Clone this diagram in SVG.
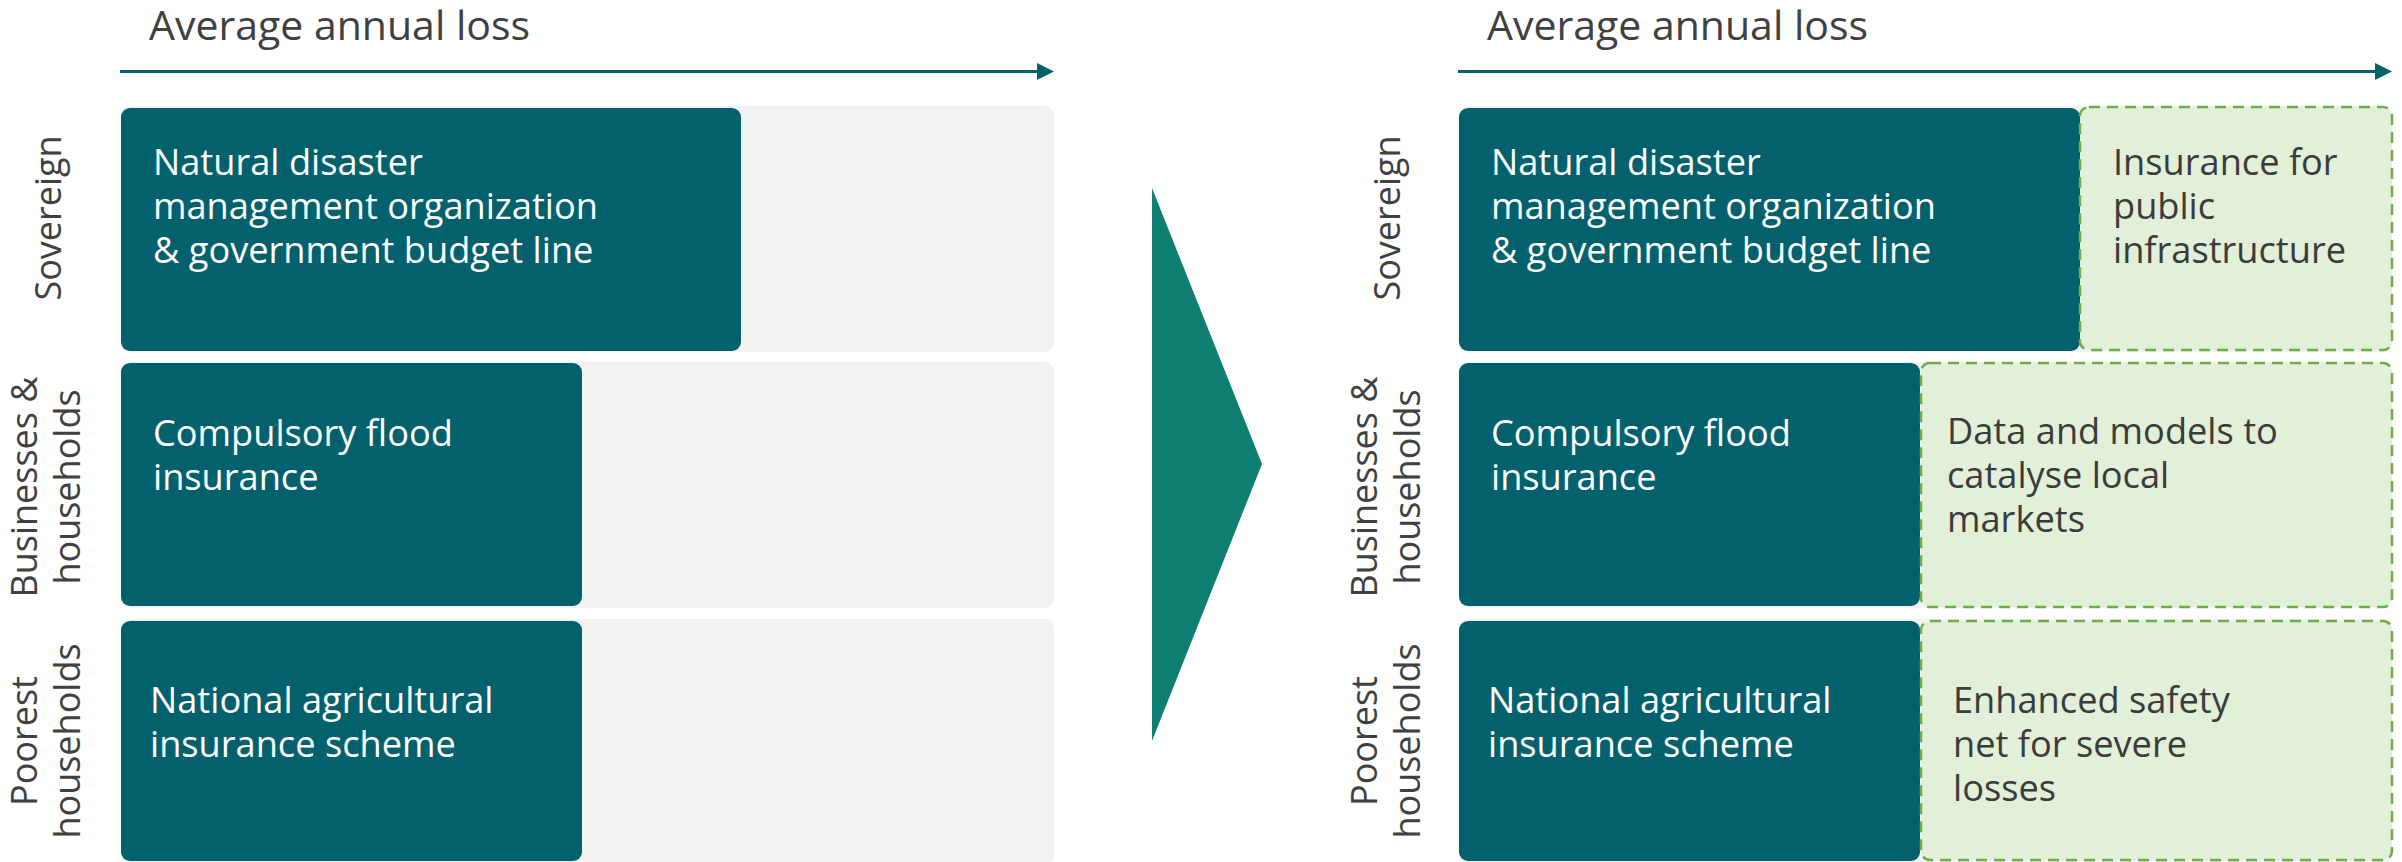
<svg xmlns="http://www.w3.org/2000/svg" width="2402" height="862" viewBox="0 0 2402 862">
<defs>
<style>
.bg{fill:#FFFFFF}
.row{fill:#F2F2F2}
.dark{fill:#02616C}
.new{fill:#E2EFD9;stroke:#70AD47;stroke-width:2.5;stroke-dasharray:11 7}
.title{font-family:"Open Sans","Noto Sans",sans-serif;font-size:41px;fill:#404040}
.lbl{font-family:"Open Sans","Noto Sans",sans-serif;font-size:36px;fill:#404040;text-anchor:middle}
.wt{font-family:"Open Sans","Noto Sans",sans-serif;font-size:36.2px;fill:#FFFFFF}
.gt{font-family:"Open Sans","Noto Sans",sans-serif;font-size:36.2px;fill:#3B3B3B}
.axis{stroke:#02616C;stroke-width:3;fill:none}
.big{fill:#0F7F74}
</style>
<marker id="ah" markerWidth="18" markerHeight="18" refX="8" refY="8.5" orient="auto" markerUnits="userSpaceOnUse">
<path d="M0,0 L17,8.5 L0,17 Z" fill="#02616C"/>
</marker>
</defs>
<rect class="bg" x="0" y="0" width="2402" height="862"/>

<g id="left-panel">
<text class="title" x="149" y="40">Average annual loss</text>
<rect class="row" x="121" y="106" width="933" height="246" rx="9"/>
<rect class="row" x="121" y="362" width="933" height="246" rx="9"/>
<rect class="row" x="121" y="619" width="933" height="246" rx="9"/>
<text class="lbl" transform="translate(61,218) rotate(-90)">Sovereign</text>
<text class="lbl" transform="translate(37,487) rotate(-90)">Businesses &amp;</text>
<text class="lbl" transform="translate(80,487) rotate(-90)">households</text>
<text class="lbl" transform="translate(37,741) rotate(-90)">Poorest</text>
<text class="lbl" transform="translate(80,741) rotate(-90)">households</text>
</g>

<g id="left-sovereign">
<rect class="dark" x="121" y="108" width="620" height="243" rx="9"/>
<text class="wt" x="153" y="175">Natural disaster</text>
<text class="wt" x="153" y="219">management organization</text>
<text class="wt" x="153" y="263">&amp; government budget line</text>
</g>
<g id="left-business">
<rect class="dark" x="121" y="363" width="461" height="243" rx="9"/>
<text class="wt" x="153" y="446">Compulsory flood</text>
<text class="wt" x="153" y="490">insurance</text>
</g>
<g id="left-poorest">
<rect class="dark" x="121" y="621" width="461" height="240" rx="9"/>
<text class="wt" x="150" y="713">National agricultural</text>
<text class="wt" x="150" y="757">insurance scheme</text>
</g>

<g id="transition-arrow">
<polygon class="big" points="1152,188 1262,464 1152,741"/>
</g>

<g id="right-panel">
<text class="title" x="1487" y="40">Average annual loss</text>
<rect class="row" x="1459" y="106" width="933" height="246" rx="9"/>
<rect class="row" x="1459" y="362" width="933" height="246" rx="9"/>
<rect class="row" x="1459" y="619" width="933" height="246" rx="9"/>
<text class="lbl" transform="translate(1400,218) rotate(-90)">Sovereign</text>
<text class="lbl" transform="translate(1377,487) rotate(-90)">Businesses &amp;</text>
<text class="lbl" transform="translate(1420,487) rotate(-90)">households</text>
<text class="lbl" transform="translate(1377,741) rotate(-90)">Poorest</text>
<text class="lbl" transform="translate(1420,741) rotate(-90)">households</text>
</g>

<g id="right-sovereign">
<rect class="dark" x="1459" y="108" width="621" height="243" rx="9"/>
<text class="wt" x="1491" y="175">Natural disaster</text>
<text class="wt" x="1491" y="219">management organization</text>
<text class="wt" x="1491" y="263">&amp; government budget line</text>
</g>
<g id="right-sovereign-new">
<rect class="new" x="2080" y="107" width="312" height="243" rx="9"/>
<text class="gt" x="2113" y="175">Insurance for</text>
<text class="gt" x="2113" y="219">public</text>
<text class="gt" x="2113" y="263">infrastructure</text>
</g>
<g id="right-business">
<rect class="dark" x="1459" y="363" width="461" height="243" rx="9"/>
<text class="wt" x="1491" y="446">Compulsory flood</text>
<text class="wt" x="1491" y="490">insurance</text>
</g>
<g id="right-business-new">
<rect class="new" x="1921" y="363" width="471" height="244" rx="9"/>
<text class="gt" x="1947" y="444">Data and models to</text>
<text class="gt" x="1947" y="488">catalyse local</text>
<text class="gt" x="1947" y="532">markets</text>
</g>
<g id="right-poorest">
<rect class="dark" x="1459" y="621" width="461" height="240" rx="9"/>
<text class="wt" x="1488" y="713">National agricultural</text>
<text class="wt" x="1488" y="757">insurance scheme</text>
</g>
<g id="right-poorest-new">
<rect class="new" x="1921" y="621" width="471" height="239" rx="9"/>
<text class="gt" x="1953" y="713">Enhanced safety</text>
<text class="gt" x="1953" y="757">net for severe</text>
<text class="gt" x="1953" y="801">losses</text>
</g>

<g id="connectors">
<line class="axis" x1="120" y1="71.5" x2="1045" y2="71.5" marker-end="url(#ah)"/>
<line class="axis" x1="1458" y1="71.5" x2="2383" y2="71.5" marker-end="url(#ah)"/>
</g>
</svg>
